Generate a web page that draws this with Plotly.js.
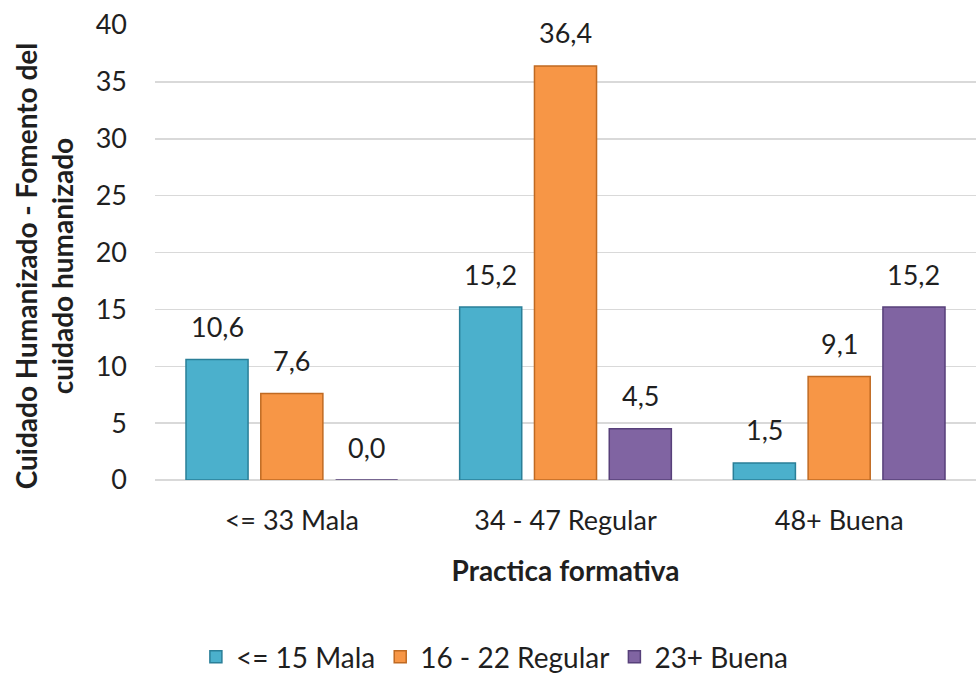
<!DOCTYPE html>
<html>
<head>
<meta charset="utf-8">
<script src="https://cdn.plot.ly/plotly-3.0.1.min.js"></script>
<style>
  html, body { margin: 0; padding: 0; background: #ffffff; }
  #chart { width: 976px; height: 682px; }
</style>
</head>
<body>
<div id="chart"></div>
<script>
// Practica formativa groups on the x axis
const categories = ['<= 33 Mala', '34 - 47 Regular', '48+ Buena'];

// Cuidado humanizado levels (one series each)
const seriesNames = ['<= 15 Mala', '16 - 22 Regular', '23+ Buena'];
const malaValues = [10.6, 15.2, 1.5];
const regularValues = [7.6, 36.4, 9.1];
const buenaValues = [0.0, 4.5, 15.2];

const yTicks = [0, 5, 10, 15, 20, 25, 30, 35, 40];

const yTitleText = '<b>Cuidado Humanizado - Fomento del<br>cuidado humanizado</b>';
const xTitleText = '<b>Practica formativa</b>';

const seriesValues = [malaValues, regularValues, buenaValues];
const fillColors = ['#4bb0cc', '#f79646', '#8064a2'];
const edgeColors = ['#2a7f98', '#c06a22', '#57407a'];

const FONT = 'Lato, "Noto Sans", sans-serif';
const TEXT_COLOR = '#1f1f1f';
const BARGAP = 0.18;
const GROUPGAP = 0.17;

const traces = seriesValues.map((vals, i) => ({
  type: 'bar',
  name: seriesNames[i],
  x: categories,
  y: vals,
  marker: {
    color: fillColors[i],
    line: { color: edgeColors[i], width: 1.5 }
  },
  hoverinfo: 'skip'
}));

// Value labels above each bar, placed at each bar's slot on the category axis
const slot = (1 - BARGAP) / seriesValues.length;
const annotations = [];
seriesValues.forEach((vals, i) => {
  vals.forEach((v, j) => {
    annotations.push({
      x: j + (i - (seriesValues.length - 1) / 2) * slot,
      y: v,
      xref: 'x',
      yref: 'y',
      text: v.toFixed(1).replace('.', ','),
      showarrow: false,
      yanchor: 'middle',
      yshift: 33,
      font: { family: FONT, size: 27, color: TEXT_COLOR }
    });
  });
});

// Rotated two-line y axis title
annotations.push({
  xref: 'paper',
  yref: 'paper',
  x: -0.135,
  y: 0.47,
  xanchor: 'center',
  yanchor: 'middle',
  textangle: -90,
  text: yTitleText,
  showarrow: false,
  font: { family: FONT, size: 28, color: TEXT_COLOR }
});

const layout = {
  width: 976,
  height: 682,
  margin: { l: 155, r: 0, t: 25, b: 198 },
  paper_bgcolor: '#ffffff',
  plot_bgcolor: '#ffffff',
  barmode: 'group',
  bargap: BARGAP,
  bargroupgap: GROUPGAP,
  showlegend: true,
  legend: {
    orientation: 'h',
    x: 0.414,
    xanchor: 'center',
    y: -0.39,
    yanchor: 'middle',
    font: { family: FONT, size: 28, color: TEXT_COLOR },
    itemwidth: 30,
    tracegroupgap: 0
  },
  xaxis: {
    type: 'category',
    range: [-0.5, 2.5],
    showgrid: false,
    showline: false,
    zeroline: false,
    ticks: '',
    ticklabelstandoff: 22,
    tickfont: { family: FONT, size: 27, color: TEXT_COLOR },
    title: {
      text: xTitleText,
      font: { family: FONT, size: 28, color: TEXT_COLOR },
      standoff: 26
    },
    automargin: false
  },
  yaxis: {
    range: [0, 40],
    tickvals: yTicks,
    ticktext: yTicks.map(String),
    showgrid: true,
    gridcolor: '#d9d9d9',
    gridwidth: 1.5,
    zeroline: true,
    zerolinecolor: '#d9d9d9',
    zerolinewidth: 1.5,
    showline: false,
    ticks: '',
    ticklabelstandoff: 27,
    tickfont: { family: FONT, size: 27, color: TEXT_COLOR },
    automargin: false
  },
  annotations: annotations
};

Plotly.newPlot('chart', traces, layout, { displayModeBar: false, staticPlot: true });
</script>
</body>
</html>
